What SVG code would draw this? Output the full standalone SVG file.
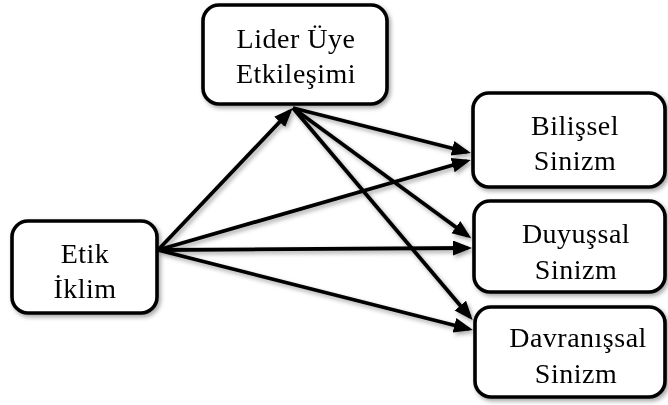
<svg xmlns="http://www.w3.org/2000/svg" width="668" height="405" viewBox="0 0 668 405">
<style>
.box{fill:#fff;stroke:#000;stroke-width:3.6}
.lbl{font-family:"Liberation Serif","DejaVu Serif",serif;font-size:28px;fill:#000;text-anchor:middle;letter-spacing:0.5px}
.edge{stroke:#000;stroke-width:3.8;fill:none;marker-end:url(#ah)}
</style>
<defs>
<filter id="sh" x="-10%" y="-10%" width="130%" height="130%">
<feDropShadow dx="2" dy="2.5" stdDeviation="2" flood-color="#000" flood-opacity="0.35"/>
</filter>
<marker id="ah" markerUnits="userSpaceOnUse" markerWidth="20" markerHeight="16" refX="15" refY="7.5" orient="auto">
<path d="M0,0 L19,7.5 L0,15 Z" fill="#000"/>
</marker>
</defs>
<g id="connectors" filter="url(#sh)">
<line class="edge" x1="158" y1="250" x2="290" y2="111"/>
<line class="edge" x1="293" y1="108" x2="467" y2="152"/>
<line class="edge" x1="293" y1="108" x2="468" y2="236"/>
<line class="edge" x1="293" y1="108" x2="470" y2="317"/>
<line class="edge" x1="158" y1="250" x2="467" y2="161"/>
<line class="edge" x1="158" y1="250" x2="468" y2="248"/>
<line class="edge" x1="158" y1="250" x2="469" y2="329"/>
</g>
<g id="etik" filter="url(#sh)">
<rect class="box" x="12" y="221" width="145" height="92" rx="16"/>
<text class="lbl" x="85" y="263">Etik</text>
<text class="lbl" x="85" y="298">İklim</text>
</g>
<g id="lider" filter="url(#sh)">
<rect class="box" x="203" y="5" width="184" height="99" rx="16"/>
<text class="lbl" x="296" y="48">Lider Üye</text>
<text class="lbl" x="296" y="83">Etkileşimi</text>
</g>
<g id="bilissel" filter="url(#sh)">
<rect class="box" x="473" y="93" width="192" height="94" rx="16"/>
<text class="lbl" x="575" y="135">Bilişsel</text>
<text class="lbl" x="575" y="170">Sinizm</text>
</g>
<g id="duyussal" filter="url(#sh)">
<rect class="box" x="474" y="201" width="191" height="91" rx="16"/>
<text class="lbl" x="576" y="243">Duyuşsal</text>
<text class="lbl" x="576" y="279">Sinizm</text>
</g>
<g id="davranissal" filter="url(#sh)">
<rect class="box" x="475" y="307" width="190" height="90" rx="16"/>
<text class="lbl" x="578" y="347">Davranışsal</text>
<text class="lbl" x="576" y="383">Sinizm</text>
</g>
</svg>
